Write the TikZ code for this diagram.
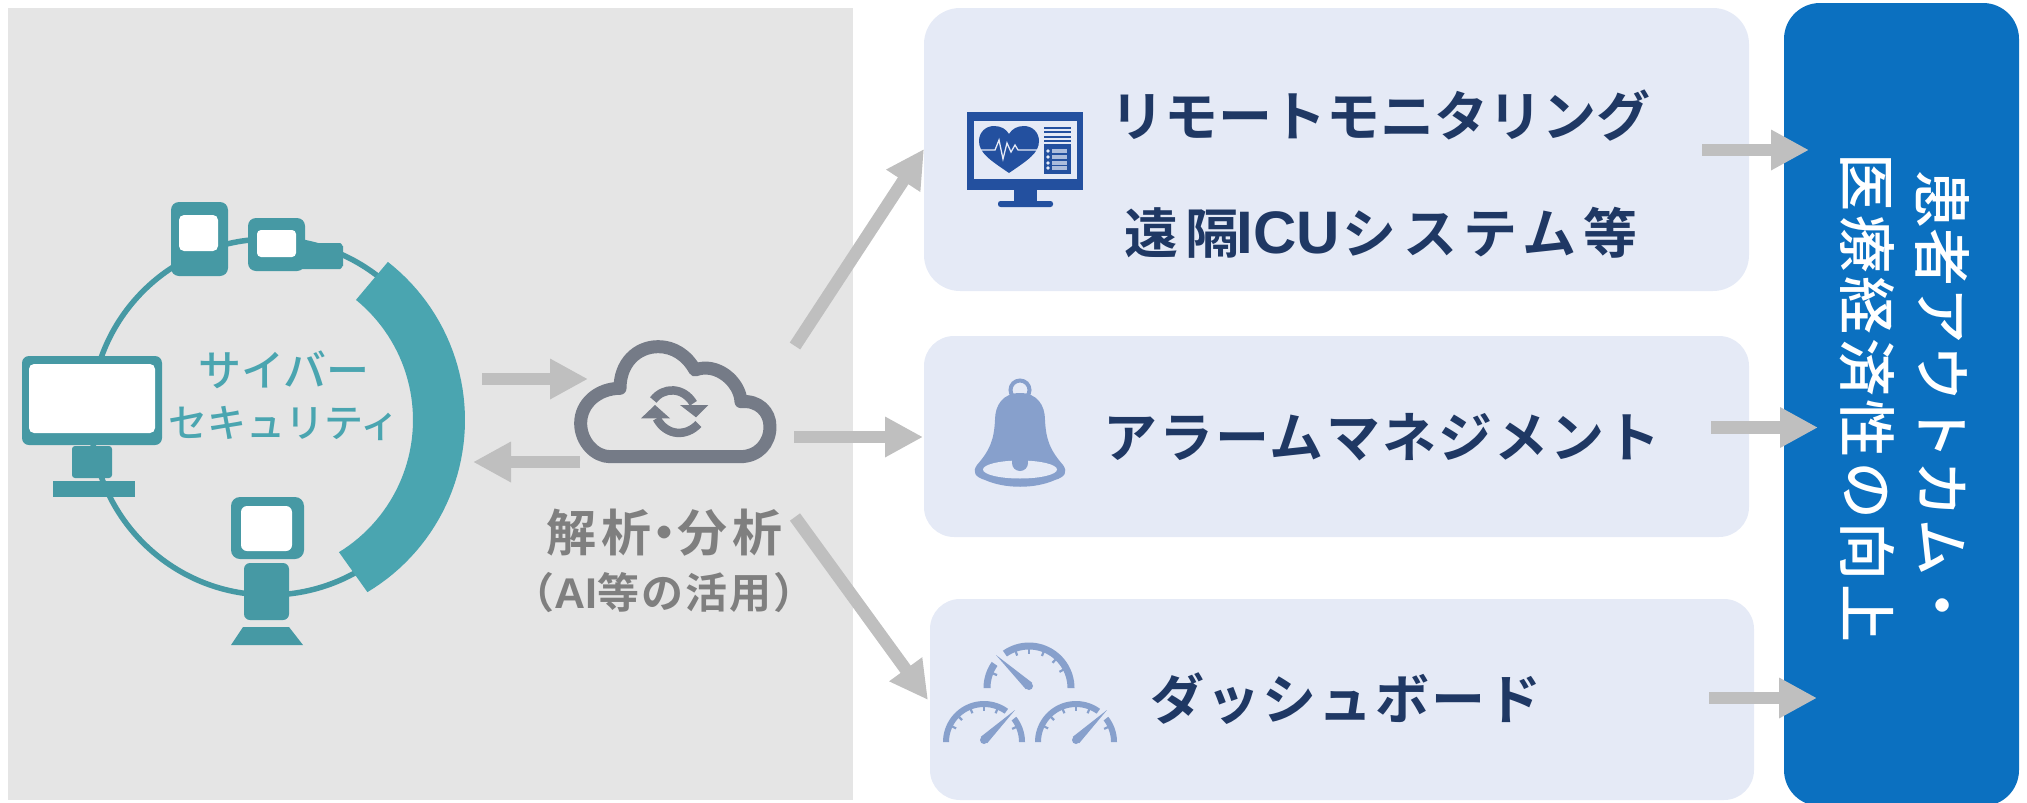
\documentclass[tikz,border=0pt]{standalone}
\usepackage{fontspec}
\usetikzlibrary{arrows.meta}
\setmainfont{Noto Sans CJK JP Medium}[BoldFont=Noto Sans CJK JP Bold]
\newfontfamily\jpv[Vertical=RotatedGlyphs]{Noto Sans CJK JP Medium}
\newfontfamily\latinb{Liberation Sans Bold}
\definecolor{bgGray}{HTML}{E5E5E5}
\definecolor{panel}{HTML}{E5EAF6}
\definecolor{outBlue}{HTML}{0B70C0}
\definecolor{arrowGray}{HTML}{BFBFBF}
\definecolor{tealD}{HTML}{4699A4}
\definecolor{tealL}{HTML}{4AA5B0}
\definecolor{navy}{HTML}{1F3864}
\definecolor{txtGray}{HTML}{7F7F7F}
\definecolor{cloudGray}{HTML}{757B87}
\definecolor{iconBlue}{HTML}{23509F}
\definecolor{iconSoft}{HTML}{87A0CC}
\tikzset{
  flow/.style={draw=arrowGray,line width=12.5pt,-{Triangle[length=38pt,width=38pt]}},
  device/.style={fill=tealD,draw=none},
  screen/.style={fill=white,draw=none},
  paneltext/.style={text=navy,font=\bfseries\fontsize{54}{54}\selectfont,inner sep=0pt},
}
\begin{document}
\begin{tikzpicture}[x=1pt,y=-1pt]
\useasboundingbox (0,0) rectangle (2027,803);
% backgrounds
\fill[bgGray] (8,8) rectangle (853,800);
\fill[panel,rounded corners=36pt] (924,8) rectangle (1749,291);
\fill[panel,rounded corners=30pt] (924,336) rectangle (1749,537);
\fill[panel,rounded corners=30pt] (930,599) rectangle (1754,800);
\fill[outBlue,rounded corners=36pt] (1784,3) rectangle (2019,806);
% ring
\draw[tealD,line width=5.5pt] (269,417) circle [radius=178];
\fill[tealL] plot[domain=-52:59.1,samples=50] ({264.4+200.6*cos(\x)},{420+200.6*sin(\x)})
  -- plot[domain=58.5:-50.8,samples=50] ({258+155*cos(\x)},{420+155*sin(\x)}) -- cycle;
% small device 1
\fill[device,rounded corners=8pt] (171,202) rectangle (228,276);
\fill[screen,rounded corners=5pt] (179,215) rectangle (218,251);
% small device 2
\fill[device] (300,241) -- (317,243) -- (340,243) to[out=0,in=-90] (343,246) -- (343,266) to[out=90,in=0] (340,269) -- (300,269) -- cycle;
\fill[device,rounded corners=8pt] (248,218) rectangle (305,271);
\fill[screen,rounded corners=4pt] (257,230) rectangle (296,257);
% monitor
\fill[device,rounded corners=7pt] (22,356) rectangle (162,445);
\fill[screen,rounded corners=5pt] (29,364) rectangle (155,433);
\fill[device,rounded corners=3pt] (72,446) rectangle (112,478);
\fill[device] (53,481) rectangle (135,497);
% bottom device
\fill[device,rounded corners=9pt] (231,497) rectangle (304,559);
\fill[screen,rounded corners=6pt] (241,506) rectangle (292,551);
\fill[device,rounded corners=6pt] (244,563) rectangle (289,620);
\fill[device] (243,627) -- (289,627) -- (303,645) -- (231,645) -- cycle;
\node[text=tealL,align=center,inner sep=0pt] (cyber) at (284,396) {\fontsize{43}{43}\selectfont サイバー\\[16pt]\fontsize{39}{39}\selectfont セキュリティ};
% cloud
\begin{scope}[shift={(460,320)},xscale=1/3,yscale=1/3]
\draw[cloudGray,line width=13pt,line join=round] (450,410) -- (840,410)
  .. controls (895,410) and (930,370) .. (930,320)
  .. controls (930,275) and (895,240) .. (843,245)
  .. controls (840,185) and (770,125) .. (705,150)
  .. controls (680,105) and (640,80) .. (595,80)
  .. controls (530,80) and (480,130) .. (480,205)
  .. controls (415,205) and (362,250) .. (362,310)
  .. controls (362,365) and (405,410) .. (450,410) -- cycle;
\draw[cloudGray,line width=8.5pt] (580,240) .. controls (610,200) and (670,200) .. (700,250);
\fill[cloudGray] (660,255) -- (745,255) -- (708,292) -- cycle;
\draw[cloudGray,line width=8.5pt] (715,312) .. controls (680,350) and (620,350) .. (590,295);
\fill[cloudGray] (543,295) -- (630,295) -- (585,255) -- cycle;
\end{scope}
\node[text=txtGray,font=\bfseries\fontsize{50}{50}\selectfont,inner sep=0pt] (analysis) at (664,533) {解\hspace{5pt}析\hspace{-12pt}・\hspace{-12pt}分\hspace{5pt}析};
\node[text=txtGray,font=\bfseries\fontsize{42}{42}\selectfont,inner sep=0pt] (ai) at (664,593) {\addfontfeature{LetterSpace=5}（{\latinb\fontsize{43}{43}\selectfont AI}等の活用）};
% monitor icon
\fill[iconBlue] (967,112) rectangle (1083,190);
\fill[panel] (974,121) rectangle (1077,179);
\fill[iconBlue] (1014,190) rectangle (1037,202);
\fill[iconBlue,rounded corners=2.5pt] (998,201) rectangle (1053,207);
\fill[iconBlue] (1009,173) .. controls (990,160) and (979,153) .. (979,141)
  .. controls (979,132) and (986,126) .. (994,126)
  .. controls (1001,126) and (1006,129) .. (1009,134)
  .. controls (1012,129) and (1017,126) .. (1024,126)
  .. controls (1032,126) and (1039,132) .. (1039,141)
  .. controls (1039,153) and (1028,160) .. (1009,173) -- cycle;
\draw[panel,line width=1.3pt] (980,150) -- (995,150) -- (999,140) -- (1003,159) -- (1007,143) -- (1011,152) -- (1015,145) -- (1018,150) -- (1038,150);
\foreach \yy in {127.5,132,137,141}{\fill[iconBlue] (1044,\yy-1) rectangle (1071,\yy+1);}
\fill[iconBlue] (1044,144) rectangle (1071,174);
\foreach \yy in {151,157,163,168}{\fill[panel] (1048,\yy) circle [radius=1.8];\fill[panel!70!iconBlue] (1052,\yy-1.7) rectangle (1067,\yy+1.7);}
% bell
\draw[iconSoft,line width=4pt] (1020,390) circle [radius=9.5];
\fill[iconSoft] (1020,393) .. controls (1003,393) and (995,405) .. (995,420)
  .. controls (994,440) and (990,450) .. (977,465)
  .. controls (972,472) and (975,477) .. (985,480)
  .. controls (1005,489) and (1035,489) .. (1055,480)
  .. controls (1065,477) and (1068,472) .. (1063,465)
  .. controls (1050,450) and (1046,440) .. (1045,420)
  .. controls (1045,405) and (1037,393) .. (1020,393) -- cycle;
\fill[panel] (1020,469.5) ellipse [x radius=37,y radius=9];
\fill[iconSoft] (1012,457) rectangle (1028,463);
\fill[iconSoft] (1020,463) circle [radius=8];
% gauges
\foreach \cx/\cy/\rr/\ww/\tx/\ty/\hx/\hy/\aa/\ab/\ac/\ad/\px/\py/\ticks in {
  1029/688/45.5/7/996/655/1029/686/-125/0/-180/-145/3.2/-3.2/{-110,-90,-68,-47,-28,-158},
  984/742/41/6/1015/710/984/740/-180/-54/-38/0/3.2/3.2/{-135,-112,-90,-68,-154,-25},
  1076/742/41/6/1107/710/1076/740/-180/-54/-38/0/3.2/3.2/{-135,-112,-90,-68,-154,-25}}{
  \fill[iconSoft] plot[domain=\aa:\ab,samples=30] ({\cx+\rr*cos(\x)},{\cy+\rr*sin(\x)})
    -- plot[domain=\ab:\aa,samples=30] ({\cx+(\rr-\ww)*cos(\x)},{\cy+(\rr-\ww)*sin(\x)}) -- cycle;
  \fill[iconSoft] plot[domain=\ac:\ad,samples=12] ({\cx+\rr*cos(\x)},{\cy+\rr*sin(\x)})
    -- plot[domain=\ad:\ac,samples=12] ({\cx+(\rr-\ww)*cos(\x)},{\cy+(\rr-\ww)*sin(\x)}) -- cycle;
  \foreach \t in \ticks {
    \draw[iconSoft,line width=2.2pt] ({\cx+(\rr-\ww+1)*cos(\t)},{\cy+(\rr-\ww+1)*sin(\t)}) -- ({\cx+(\rr-\ww-4)*cos(\t)},{\cy+(\rr-\ww-4)*sin(\t)});
  }
  \fill[iconSoft] ({\hx-\px},{\hy-\py}) -- (\tx,\ty) -- ({\hx+\px},{\hy+\py}) -- cycle;
  \fill[iconSoft] (\hx,\hy) circle [radius=4];
}
% panel texts
\node[paneltext] (remote) at (1380,116) {リモートモニタリング};
\node[paneltext] (icu) at (1381,233) {\addfontfeature{LetterSpace=12}遠隔\hspace{-3pt}{\latinb\fontsize{60}{60}\selectfont ICU}\hspace{3pt}システム等};
\node[paneltext] (alarm) at (1382,437) {\addfontfeature{LetterSpace=4}アラームマネジメント};
\node[paneltext] (dash) at (1346,699) {\addfontfeature{LetterSpace=4}ダッシュボード};
% outcome vertical text
\node[text=white,rotate=-90,inner sep=0pt] (outa) at (1942,402) {\jpv\fontsize{58}{58}\selectfont 患者アウトカム・};
\node[text=white,rotate=-90,inner sep=0pt] (outb) at (1867,398) {\jpv\fontsize{58}{58}\selectfont\addfontfeature{LetterSpace=6}医療経済性の向上};
% arrow ends
\coordinate (a1s) at (482,379); \coordinate (a1e) at (588,379);
\coordinate (a2s) at (580,462); \coordinate (a2e) at (473,462);
\coordinate (a3s) at (794,437); \coordinate (a3e) at (923,437);
\coordinate (a4s) at (795,517); \coordinate (a4e) at (928,700);
\coordinate (a5s) at (795,346); \coordinate (a5e) at (924,149);
\coordinate (a6s) at (1702,150); \coordinate (a6e) at (1809,150);
\coordinate (a7s) at (1711,427.5); \coordinate (a7e) at (1818,427.5);
\coordinate (a8s) at (1709,698); \coordinate (a8e) at (1817,698);
\foreach \n in {1,...,8}{\draw[flow] (a\n s) -- (a\n e);}
\end{tikzpicture}
\end{document}
